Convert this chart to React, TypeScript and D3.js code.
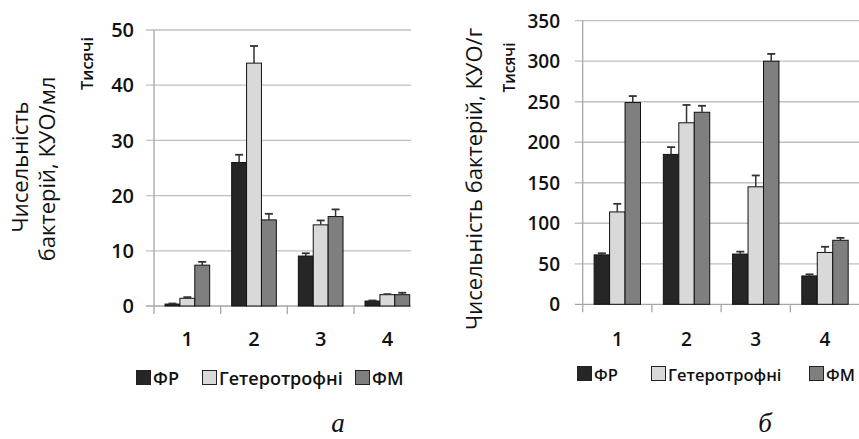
import React from "react";
import * as d3 from "d3";

const categories = ["1", "2", "3", "4"];
const seriesNames = ["ФР", "Гетеротрофні", "ФМ"];
const seriesColors = ["#262626", "#d9d9d9", "#7f7f7f"];

// Panel а: water, thousands CFU/ml
const waterFR = [0.35, 26.0, 9.05, 0.9];
const waterHet = [1.4, 44.0, 14.7, 2.05];
const waterFM = [7.4, 15.6, 16.2, 2.05];
const waterFRErr = [0.1, 1.4, 0.5, 0.1];
const waterHetErr = [0.2, 3.1, 0.8, 0.1];
const waterFMErr = [0.6, 1.1, 1.3, 0.35];
const waterTicks = [0, 10, 20, 30, 40, 50];

// Panel б: soil, thousands CFU/g
const soilFR = [61, 185, 62, 35];
const soilHet = [114, 224, 145, 64];
const soilFM = [249, 237, 300, 79];
const soilFRErr = [2, 9, 3, 2];
const soilHetErr = [10, 22, 14, 7];
const soilFMErr = [8, 8, 9, 3];
const soilTicks = [0, 50, 100, 150, 200, 250, 300, 350];

const FONT = "'Open Sans', 'DejaVu Sans', sans-serif";

type Cfg = {
  values: number[][];
  errors: number[][];
  ticks: number[];
  yMax: number;
  x0: number;
  x1: number;
  gridEnd: number;
  y0: number;
  yTop: number;
  tickLabelX: number;
  tickFont: number;
  catFont: number;
  titleFont: number;
  legendFont: number;
  unitFont: number;
  titleLines: { text: string; x: number; y: number }[];
  unitX: number;
  unitY: number;
  legendY: number;
  legendItems: { sq: number; tx: number }[];
  letter: string;
  letterX: number;
  letterY: number;
};

function Panel({ c }: { c: Cfg }) {
  const y = d3.scaleLinear().domain([0, c.yMax]).range([c.y0, c.yTop]);
  const x = d3.scaleBand<string>().domain(categories).range([c.x0, c.x1]).padding(0);
  const groupW = x.bandwidth() * 0.67;
  const inner = d3
    .scaleBand<string>()
    .domain(seriesNames)
    .range([0, groupW])
    .padding(0);
  const bw = inner.bandwidth();
  const capW = 8;
  const sq = 14;
  return (
    <g>
      {c.ticks.map((t) => (
        <g key={"g" + t}>
          <line
            x1={c.x0 - 8}
            x2={c.gridEnd}
            y1={y(t)}
            y2={y(t)}
            stroke={t === 0 ? "#a6a6a6" : "#c0c0c0"}
            strokeWidth={1.3}
          />
          <text
            x={c.tickLabelX}
            y={y(t) + c.tickFont * 0.36}
            textAnchor="end"
            fontFamily={FONT}
            fontWeight={600}
            fontSize={c.tickFont}
            fill="#111"
          >
            {t}
          </text>
        </g>
      ))}
      <line x1={c.x0} x2={c.x0} y1={c.yTop} y2={c.y0 + 8} stroke="#a6a6a6" strokeWidth={1.3} />
      {categories.slice(1).map((cat) => (
        <line
          key={"t" + cat}
          x1={x(cat)!}
          x2={x(cat)!}
          y1={c.y0}
          y2={c.y0 + 8}
          stroke="#a6a6a6"
          strokeWidth={1.3}
        />
      ))}
      {categories.map((cat, ci) => {
        const gx = x(cat)! + (x.bandwidth() - groupW) / 2;
        return (
          <g key={"c" + cat}>
            {seriesNames.map((s, si) => {
              const v = c.values[si][ci];
              const e = c.errors[si][ci];
              const bx = gx + inner(s)!;
              const cx = bx + bw / 2;
              return (
                <g key={s}>
                  <rect
                    x={bx}
                    y={y(v)}
                    width={bw}
                    height={c.y0 - y(v)}
                    fill={seriesColors[si]}
                    stroke="#111"
                    strokeWidth={1}
                  />
                  <line x1={cx} x2={cx} y1={y(v)} y2={y(v + e)} stroke="#333" strokeWidth={1.5} />
                  <line
                    x1={cx - capW / 2}
                    x2={cx + capW / 2}
                    y1={y(v + e)}
                    y2={y(v + e)}
                    stroke="#333"
                    strokeWidth={1.8}
                  />
                </g>
              );
            })}
            <text
              x={x(cat)! + x.bandwidth() / 2}
              y={346}
              textAnchor="middle"
              fontFamily={FONT}
              fontWeight={600}
              fontSize={c.catFont}
              fill="#111"
            >
              {cat}
            </text>
          </g>
        );
      })}
      {c.titleLines.map((l, i) => (
        <text
          key={"tl" + i}
          transform={`translate(${l.x},${l.y}) rotate(-90)`}
          textAnchor="middle"
          fontFamily={FONT}
          fontSize={c.titleFont}
          fill="#111"
        >
          {l.text}
        </text>
      ))}
      <text
        transform={`translate(${c.unitX},${c.unitY}) rotate(-90)`}
        textAnchor="middle"
        fontFamily={FONT}
        fontWeight={600}
        fontSize={c.unitFont}
        fill="#111"
      >
        Тисячі
      </text>
      {seriesNames.map((s, si) => (
        <g key={"lg" + s}>
          <rect
            x={c.legendItems[si].sq}
            y={c.legendY - sq - 0.5}
            width={sq}
            height={sq}
            fill={seriesColors[si]}
            stroke="#222"
            strokeWidth={1}
          />
          <text
            x={c.legendItems[si].tx}
            y={c.legendY}
            fontFamily={FONT}
            fontWeight={600}
            fontSize={c.legendFont}
            fill="#111"
          >
            {s}
          </text>
        </g>
      ))}
      <text
        x={c.letterX}
        y={c.letterY}
        textAnchor="middle"
        fontFamily="'Liberation Serif', 'DejaVu Serif', serif"
        fontStyle="italic"
        fontSize={27}
        fill="#111"
      >
        {c.letter}
      </text>
    </g>
  );
}

const waterCfg: Cfg = {
  values: [waterFR, waterHet, waterFM],
  errors: [waterFRErr, waterHetErr, waterFMErr],
  ticks: waterTicks,
  yMax: 50,
  x0: 154,
  x1: 420.7,
  gridEnd: 411,
  y0: 306,
  yTop: 30,
  tickLabelX: 134,
  tickFont: 20,
  catFont: 20,
  titleFont: 22,
  legendFont: 18,
  unitFont: 16.5,
  titleLines: [
    { text: "Чисельність", x: 28, y: 167 },
    { text: "бактерій, КУО/мл", x: 55, y: 169 },
  ],
  unitX: 93,
  unitY: 63.5,
  legendY: 385,
  legendItems: [
    { sq: 136.5, tx: 153 },
    { sq: 202.5, tx: 219 },
    { sq: 355.5, tx: 372 },
  ],
  letter: "а",
  letterX: 338,
  letterY: 432,
};

const soilCfg: Cfg = {
  values: [soilFR, soilHet, soilFM],
  errors: [soilFRErr, soilHetErr, soilFMErr],
  ticks: soilTicks,
  yMax: 350,
  x0: 582.7,
  x1: 859.6,
  gridEnd: 859,
  y0: 304.3,
  yTop: 20.7,
  tickLabelX: 560,
  tickFont: 19,
  catFont: 19,
  titleFont: 22,
  legendFont: 16.5,
  unitFont: 15.5,
  titleLines: [{ text: "Чисельність бактерій, КУО/г", x: 482, y: 179 }],
  unitX: 515,
  unitY: 67.5,
  legendY: 381,
  legendItems: [
    { sq: 577.5, tx: 594 },
    { sq: 651.5, tx: 668 },
    { sq: 809.5, tx: 826 },
  ],
  letter: "б",
  letterX: 765,
  letterY: 432,
};

export default function App() {
  return (
    <svg
      width={859}
      height={439}
      viewBox="0 0 859 439"
      style={{ position: "absolute", left: 0, top: 0, background: "#fff" }}
    >
      <rect x={0} y={0} width={859} height={439} fill="#fff" />
      <Panel c={waterCfg} />
      <Panel c={soilCfg} />
    </svg>
  );
}
